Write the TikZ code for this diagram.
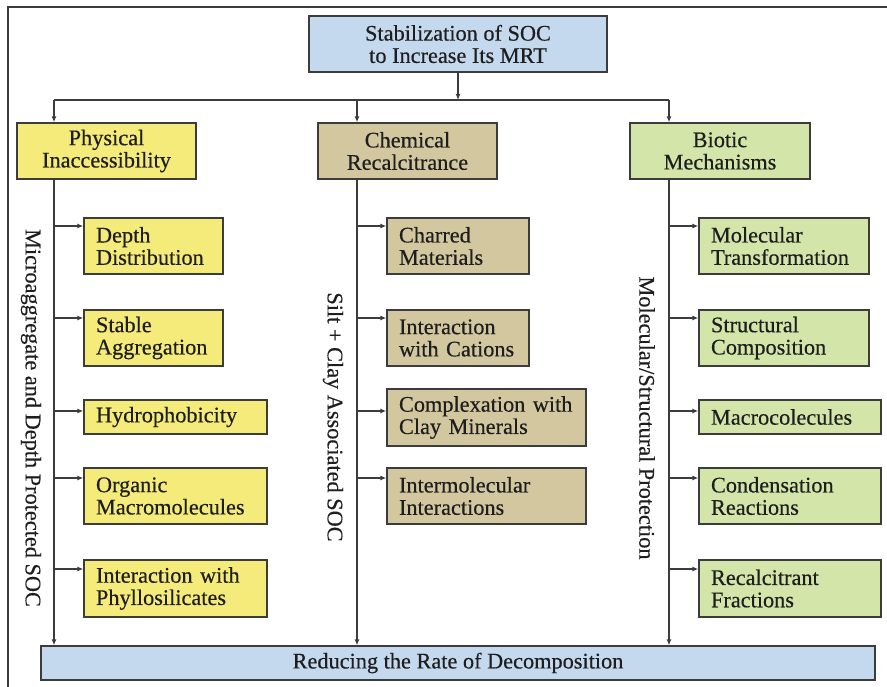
\documentclass[tikz,border=0pt]{standalone}
\usepackage{fontspec}
\setmainfont[FakeBold=0.4]{Liberation Serif}
\usetikzlibrary{arrows.meta}
\definecolor{cblue}{RGB}{197,217,238}
\definecolor{cyel}{RGB}{245,235,122}
\definecolor{ctan}{RGB}{211,199,160}
\definecolor{cgrn}{RGB}{212,229,170}
\definecolor{cline}{RGB}{60,60,60}
\definecolor{ctext}{RGB}{30,30,30}
\begin{document}
\begin{tikzpicture}[x=1pt,y=-1pt,
  font=\fontsize{22.3}{22.3}\selectfont,
  box/.style={draw=cline, line width=1.3pt, inner sep=0pt, text=ctext, align=center},
  sub/.style={box, align=left, inner xsep=12pt},
  arr/.style={draw=cline, line width=1.2pt, -{Latex[length=6pt,width=5pt]}},
  ln/.style={draw=cline, line width=1.2pt},
  vlab/.style={rotate=-90, text=ctext, inner sep=0pt}]
\useasboundingbox (0,0) rectangle (887,687);
\draw[cline, line width=1.5pt] (887,7) -- (8,7) -- (8,687);

% top and bottom
\node[box, fill=cblue, minimum width=298pt, minimum height=56pt] (top) at (458,44) {Stabilization of SOC\\to Increase Its MRT};
\node[box, fill=cblue, minimum width=834pt, minimum height=34pt] (bot) at (458,663) {Reducing the Rate of Decomposition};

% category boxes
\node[box, fill=cyel, minimum width=179pt, minimum height=56pt] (phys) at (106.5,151) {Physical\\Inaccessibility};
\node[box, fill=ctan, minimum width=179pt, minimum height=56pt] (chem) at (407.5,151) {Chemical\\Recalcitrance};
\node[box, fill=cgrn, minimum width=180pt, minimum height=56pt] (biot) at (720,151) {Biotic\\Mechanisms};

% left column
\node[sub, fill=cyel, text width=115pt, minimum height=56pt] (dd) at (153.5,246) {Depth\\Distribution};
\node[sub, fill=cyel, text width=115pt, minimum height=56pt] (sa) at (153.5,338) {Stable\\Aggregation};
\node[sub, fill=cyel, text width=159pt, minimum height=34pt] (hy) at (175.5,417) {Hydrophobicity};
\node[sub, fill=cyel, text width=159pt, minimum height=56pt] (om) at (175.5,496) {Organic\\Macromolecules};
\node[sub, fill=cyel, text width=159pt, minimum height=57pt] (ip) at (175.5,588.5) {Interaction with\\Phyllosilicates};

% middle column
\node[sub, fill=ctan, text width=118pt, minimum height=56pt] (cm) at (458,246) {Charred\\Materials};
\node[sub, fill=ctan, text width=118pt, minimum height=56pt] (ic) at (458,338) {Interaction\\with Cations};
\node[sub, fill=ctan, text width=175pt, minimum height=57pt] (cx) at (486.5,417.5) {Complexation with\\Clay Minerals};
\node[sub, fill=ctan, text width=175pt, minimum height=56pt] (im) at (486.5,496) {Intermolecular\\Interactions};

% right column
\node[sub, fill=cgrn, text width=146pt, minimum height=56pt] (mt) at (784,246) {Molecular\\Transformation};
\node[sub, fill=cgrn, text width=146pt, minimum height=56pt] (sc) at (784,338) {Structural\\Composition};
\node[sub, fill=cgrn, text width=158pt, minimum height=34pt] (mc) at (790,417) {Macrocolecules};
\node[sub, fill=cgrn, text width=158pt, minimum height=56pt] (cr) at (790,496) {Condensation\\Reactions};
\node[sub, fill=cgrn, text width=158pt, minimum height=57pt] (rf) at (790,588.5) {Recalcitrant\\Fractions};

% vertical labels
\node[vlab] (vl) at (31,418) {Microaggregate and Depth Protected SOC};
\node[vlab] (vm) at (333,417) {Silt + Clay Associated SOC};
\node[vlab] (vr) at (647,418) {Molecular/Structural Protection};

% junction coordinates
\coordinate (tL) at (54,100);
\coordinate (tM) at (357,100);
\coordinate (tR) at (669,100);
\coordinate (r1) at (0,226);
\coordinate (r2) at (0,318);
\coordinate (r3) at (0,411);
\coordinate (r4) at (0,478);
\coordinate (r5) at (0,569);

\draw[arr] (top.south) -- (top.south |- tL);
\draw[ln] (tL) -- (tR);
\draw[arr] (tL) -- (tL |- phys.north);
\draw[arr] (tM) -- (tM |- chem.north);
\draw[arr] (tR) -- (tR |- biot.north);

\draw[arr] (tL |- phys.south) -- (tL |- bot.north);
\draw[arr] (tM |- chem.south) -- (tM |- bot.north);
\draw[arr] (tR |- biot.south) -- (tR |- bot.north);

\draw[arr] (tL |- r1) -- (dd.west |- r1);
\draw[arr] (tL |- r2) -- (sa.west |- r2);
\draw[arr] (tL |- r3) -- (hy.west |- r3);
\draw[arr] (tL |- r4) -- (om.west |- r4);
\draw[arr] (tL |- r5) -- (ip.west |- r5);

\draw[arr] (tM |- r1) -- (cm.west |- r1);
\draw[arr] (tM |- r2) -- (ic.west |- r2);
\draw[arr] (tM |- r3) -- (cx.west |- r3);
\draw[arr] (tM |- r4) -- (im.west |- r4);

\draw[arr] (tR |- r1) -- (mt.west |- r1);
\draw[arr] (tR |- r2) -- (sc.west |- r2);
\draw[arr] (tR |- r3) -- (mc.west |- r3);
\draw[arr] (tR |- r4) -- (cr.west |- r4);
\draw[arr] (tR |- r5) -- (rf.west |- r5);
\end{tikzpicture}
\end{document}
